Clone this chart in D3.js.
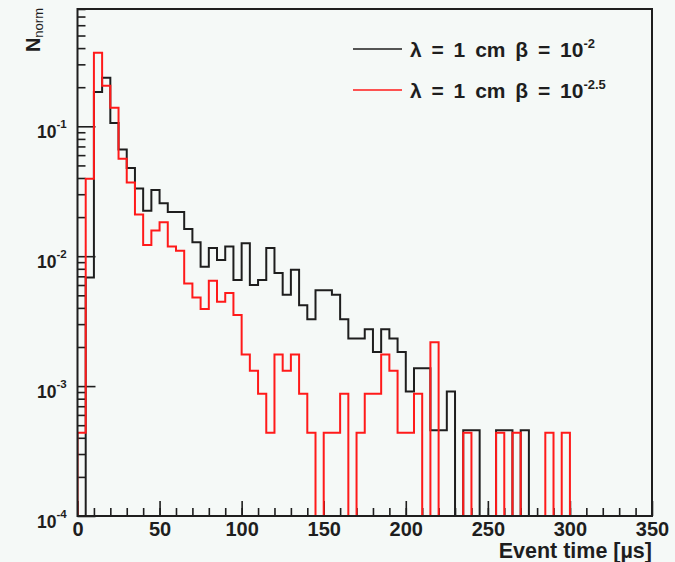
<!DOCTYPE html>
<html>
<head>
<meta charset="utf-8">
<script src="https://cdn.jsdelivr.net/npm/d3@7"></script>
<style>
  body { margin: 0; background: #f5f9f7; }
  svg { display: block; font-family: "Liberation Sans", Arial, Helvetica, sans-serif; }
</style>
</head>
<body>
<svg id="chart" width="675" height="562"></svg>
<script>
// histogram: 5 us bins from 0 to 350
var binWidth = 5;
var binStarts = d3.range(0, 350, binWidth);

// lambda = 1 cm, beta = 10^-2 (black)
var beta2 = [0, 0.00686, 0.184, 0.236, 0.106, 0.0664, 0.0478, 0.0332, 0.0224, 0.0324,
  0.0256, 0.0219, 0.0219, 0.0162, 0.0128, 0.0083, 0.01156, 0.00935, 0.0119, 0.00655,
  0.01256, 0.0060, 0.00655, 0.01156, 0.00741, 0.00505, 0.00787, 0.0042, 0.00327, 0.00548,
  0.00548, 0.00505, 0.00327, 0.00233, 0.00233, 0.00274, 0.00183, 0.00274, 0.00233, 0.00183,
  0.00091, 0.00137, 0.00137, 0.000457, 0.000457, 0.00091, 0, 0.000457, 0.000457, 0,
  0, 0.000457, 0.000457, 0, 0.000457, 0, 0, 0, 0, 0,
  0, 0, 0, 0, 0, 0, 0, 0, 0, 0];

// lambda = 1 cm, beta = 10^-2.5 (red)
var beta25 = [0.000437, 0.0394, 0.368, 0.205, 0.139, 0.0563, 0.037, 0.0209, 0.0122, 0.01574,
  0.01824, 0.0119, 0.01103, 0.00617, 0.00481, 0.00393, 0.00647, 0.00446, 0.0052, 0.00353,
  0.00175, 0.00131, 0.000874, 0.000437, 0.00175, 0.00131, 0.00175, 0.000874, 0.000437, 0,
  0.000437, 0.000437, 0.000874, 0, 0.000437, 0.000874, 0.000874, 0.00175, 0.00131, 0.000437,
  0.000437, 0.000874, 0, 0.00218, 0, 0, 0, 0.000437, 0, 0,
  0, 0.000437, 0, 0.000437, 0, 0, 0, 0.000437, 0, 0.000437,
  0, 0, 0, 0, 0, 0, 0, 0, 0, 0];

var xTicksMajor = [0, 50, 100, 150, 200, 250, 300, 350];
var yDecades = [1e-1, 1e-2, 1e-3, 1e-4];
var yExponents = ["-1", "-2", "-3", "-4"];

var svg = d3.select("#chart"),
    margin = { top: 9, right: 23, bottom: 46, left: 77.5 },
    width = +svg.attr("width") - margin.left - margin.right,
    height = +svg.attr("height") - margin.top - margin.bottom;

var xScale = d3.scaleLinear().domain([0, 350]).range([margin.left, margin.left + width]),
    yScale = d3.scaleLog().domain([1e-4, 0.8]).range([margin.top + height, margin.top]);

var bottom = margin.top + height;
var ink = "#1e1e1e";

svg.append("rect")
    .attr("width", 675).attr("height", 562)
    .attr("fill", "#f5f9f7");

svg.append("defs").append("clipPath").attr("id", "frame")
    .append("rect")
    .attr("x", margin.left).attr("y", margin.top)
    .attr("width", width).attr("height", height);

// minor y ticks (2..9 of each decade)
var yMinor = [];
[1e-4, 1e-3, 1e-2, 1e-1].forEach(function (d) {
    for (var k = 2; k <= 9; k++) if (d * k <= 0.8) yMinor.push(d * k);
});

function styleAxis(g) {
    g.select(".domain").remove();
    g.selectAll(".tick line").attr("stroke", ink).attr("stroke-width", 1.6);
}

svg.append("g")
    .attr("transform", "translate(" + margin.left + ",0)")
    .call(d3.axisRight(yScale).tickValues(yMinor).tickSize(8).tickFormat(""))
    .call(styleAxis);

svg.append("g")
    .attr("transform", "translate(" + margin.left + ",0)")
    .call(d3.axisRight(yScale).tickValues(yDecades).tickSize(18).tickFormat(""))
    .call(styleAxis);

// x ticks every 10, majors every 50
svg.append("g")
    .attr("transform", "translate(0," + bottom + ")")
    .call(d3.axisTop(xScale).tickValues(d3.range(10, 350, 10)).tickSize(8).tickFormat(""))
    .call(styleAxis);

svg.append("g")
    .attr("transform", "translate(0," + bottom + ")")
    .call(d3.axisTop(xScale).tickValues(xTicksMajor).tickSize(15).tickFormat(""))
    .call(styleAxis);

// x labels
svg.append("g")
    .attr("transform", "translate(0," + bottom + ")")
    .call(d3.axisBottom(xScale).tickValues(xTicksMajor).tickSize(0).tickPadding(5.5))
    .call(function (g) {
        g.select(".domain").remove();
        g.selectAll("text")
            .attr("fill", ink)
            .attr("font-size", "20px")
            .attr("font-weight", "bold")
            .attr("font-family", "Liberation Sans, Arial, sans-serif");
    });

// y labels 10^n
var yLab = svg.append("g").selectAll("text")
    .data(yDecades)
    .enter().append("text")
    .attr("x", 37)
    .attr("y", function (d) { return yScale(d) + 11.5; })
    .attr("fill", ink)
    .attr("font-size", "17.5px")
    .attr("font-weight", "bold");
yLab.append("tspan").text("10");
yLab.append("tspan")
    .attr("font-size", "11.5px")
    .attr("dy", -9.5)
    .text(function (d, i) { return yExponents[i]; });

// histograms
function stepPath(values) {
    var pts = [[xScale(0), bottom]];
    values.forEach(function (v, i) {
        var yv = v > 0 ? yScale(v) : bottom;
        pts.push([xScale(binStarts[i]), yv]);
        pts.push([xScale(binStarts[i] + binWidth), yv]);
    });
    pts.push([xScale(350), bottom]);
    return d3.line()(pts);
}

var plot = svg.append("g").attr("clip-path", "url(#frame)");

plot.append("path")
    .attr("d", stepPath(beta2))
    .attr("fill", "none")
    .attr("stroke", ink)
    .attr("stroke-width", 2);

plot.append("path")
    .attr("d", stepPath(beta25))
    .attr("fill", "none")
    .attr("stroke", "#ff1a1a")
    .attr("stroke-width", 2);

// frame
svg.append("rect")
    .attr("x", margin.left).attr("y", margin.top)
    .attr("width", width).attr("height", height)
    .attr("fill", "none")
    .attr("stroke", ink)
    .attr("stroke-width", 2);

// axis titles
svg.append("text")
    .attr("x", xScale(350))
    .attr("y", 558)
    .attr("text-anchor", "end")
    .attr("fill", ink)
    .attr("font-size", "21.5px")
    .attr("font-weight", "bold")
    .text("Event time [µs]");

var yTitle = svg.append("text")
    .attr("transform", "translate(40,8) rotate(-90)")
    .attr("text-anchor", "end")
    .attr("fill", ink)
    .attr("font-weight", "bold");
yTitle.append("tspan").attr("font-size", "20px").text("N");
yTitle.append("tspan").attr("font-size", "13px").attr("font-weight", "normal").attr("dy", 3).text("norm");

// legend
var legendItems = [
    { label: "λ = 1 cm β = 10", exp: "-2", color: ink, y: 49 },
    { label: "λ = 1 cm β = 10", exp: "-2.5", color: "#ff1a1a", y: 90 }
];
var legend = svg.append("g").selectAll("g")
    .data(legendItems)
    .enter().append("g");

legend.append("line")
    .attr("x1", 353).attr("x2", 402)
    .attr("y1", function (d) { return d.y; })
    .attr("y2", function (d) { return d.y; })
    .attr("stroke", function (d) { return d.color; })
    .attr("stroke-width", 1.5);

var legText = legend.append("text")
    .attr("x", 410)
    .attr("y", function (d) { return d.y + 7.5; })
    .attr("fill", ink)
    .attr("font-size", "21px")
    .attr("font-weight", "bold")
    .attr("word-spacing", "4px");
legText.append("tspan")
    .text(function (d) { return d.label; });
legText.append("tspan")
    .attr("font-size", "13px")
    .attr("dy", -8.5)
    .text(function (d) { return d.exp; });
</script>
</body>
</html>
